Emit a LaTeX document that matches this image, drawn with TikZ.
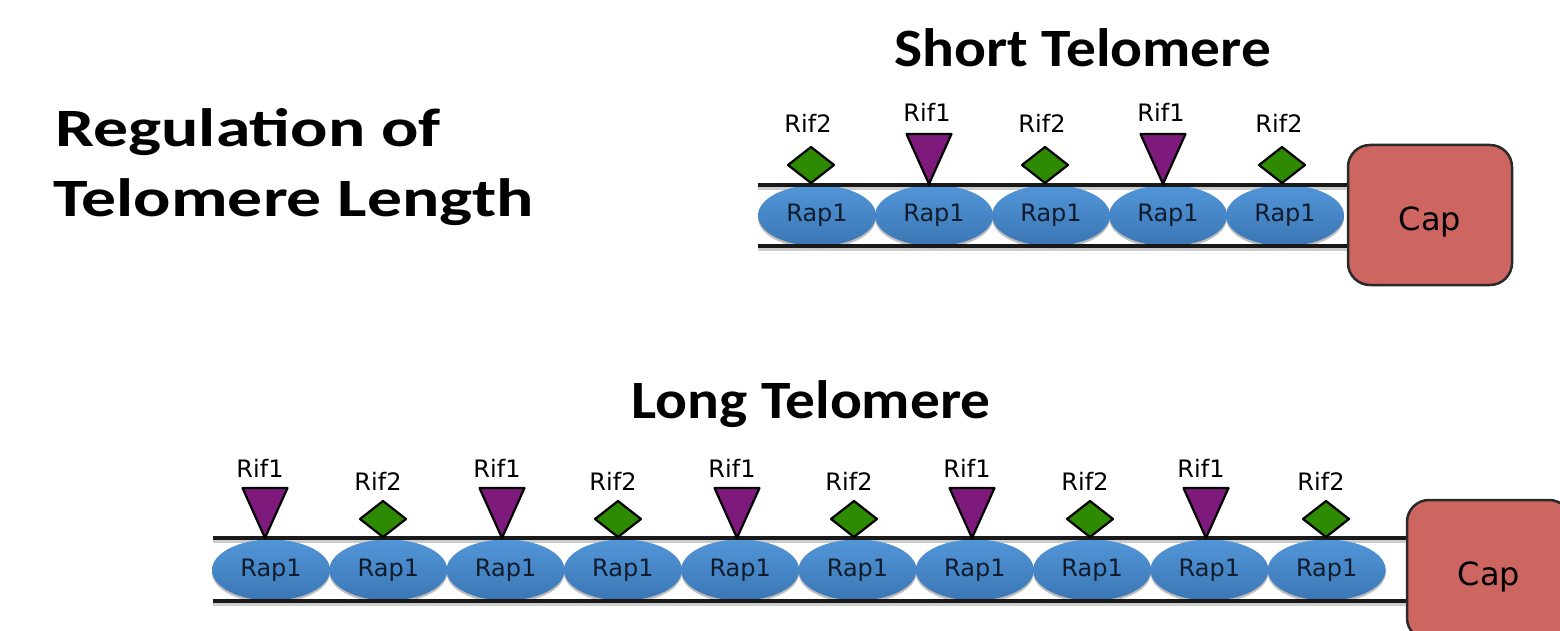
\documentclass[tikz,border=0pt]{standalone}
\usepackage{fontspec}
\usetikzlibrary{shapes.geometric}
\setmainfont{DejaVu Sans}
\newfontfamily\titlefont[FakeStretch=1.10]{Carlito}
\newfontfamily\regfont[FakeStretch=1.29]{Carlito}
\definecolor{rapTop}{HTML}{5296D8}
\definecolor{rapBot}{HTML}{3B76B4}
\definecolor{rifPurple}{HTML}{7D1A7B}
\definecolor{rifGreen}{HTML}{2E8A00}
\definecolor{capRed}{HTML}{CD6560}
\definecolor{capEdge}{HTML}{2A2A2A}
\definecolor{rapText}{HTML}{101C2C}
\begin{document}
\begin{tikzpicture}[x=1pt,y=-1pt,
  title/.style={font=\titlefont\bfseries\fontsize{54}{60}\selectfont, inner sep=0pt},
  regtitle/.style={font=\regfont\bfseries\fontsize{54}{60}\selectfont, inner sep=0pt},
  riflabel/.style={font=\fontsize{24}{28}\selectfont, inner sep=0pt, anchor=base},
  rap/.style={ellipse, minimum width=118pt, minimum height=61pt, inner sep=0pt,
    top color=rapTop, bottom color=rapBot, draw=none,
    font=\fontsize{24}{28}\selectfont, text=rapText},
  rapshadow/.style={ellipse, minimum width=118pt, minimum height=61pt, inner sep=0pt,
    fill=black!25, draw=none},
  strand/.style={line width=4pt, draw=black!90},
  strandshadow/.style={line width=4pt, draw=black!20},
  capbox/.style={rounded corners=22pt, fill=capRed, draw=capEdge, line width=2.5pt,
    minimum width=164pt, minimum height=140pt, font=\fontsize{32}{36}\selectfont,
    text height=30pt, text depth=0pt},
  rifone/.pic={\draw[fill=rifPurple, draw=black, line width=2.2pt, line join=round]
     (-22.5,-50) -- (22.5,-50) -- (0,0) -- cycle;},
  riftwo/.pic={\draw[fill=rifGreen, draw=black, line width=2.2pt, line join=round]
     (0,0) -- (-23,-18) -- (0,-36) -- (23,-18) -- cycle;}
]
\path[use as bounding box] (0,0) rectangle (1560,631);
\clip (0,0) rectangle (1560,631);

% Titles
\node[regtitle, anchor=base west] (reg1) at (55,147) {Regulation of};
\node[regtitle, anchor=base west] (reg2) at (53,217) {Telomere Length};
\node[title, anchor=base] (stitle) at (1083,67) {Short Telomere};
\node[title, anchor=base] (ltitle) at (811,418) {Long Telomere};

% ---------- Short telomere ----------
\node[capbox] (scap) at (1430,215) {Cap};
\coordinate (sL1) at (758,185);
\coordinate (sL2) at (758,246);
\draw[strandshadow] ([yshift=-3pt]sL1) -- ([yshift=-3pt]sL1 -| scap.west);
\draw[strandshadow] ([yshift=-3pt]sL2) -- ([yshift=-3pt]sL2 -| scap.west);
\foreach \i in {0,...,4}{
  \node[rapshadow] (ss\i) at ({817+117*\i},218) {};
}
\foreach \i in {0,...,4}{
  \node[rap] (sr\i) at ({817+117*\i},215.5) {Rap1};
}
\draw[strand] (sL1) -- (sL1 -| scap.west);
\draw[strand] (sL2) -- (sL2 -| scap.west);

\foreach \x/\n in {811/0,1045/2,1282/4}{
  \pic at (\x,183) {riftwo};
  \node[riflabel] (sf\n) at (\x-3,133) {Rif2};
}
\foreach \x/\n in {929/1,1163/3}{
  \pic at (\x,184) {rifone};
  \node[riflabel] (sf\n) at (\x-2,122) {Rif1};
}

% ---------- Long telomere ----------
\node[capbox] (lcap) at (1489,570) {Cap};
\coordinate (lL1) at (213,538);
\coordinate (lL2) at (213,601);
\draw[strandshadow] ([yshift=-3pt]lL1) -- ([yshift=-3pt]lL1 -| lcap.west);
\draw[strandshadow] ([yshift=-3pt]lL2) -- ([yshift=-3pt]lL2 -| lcap.west);
\foreach \i in {0,...,9}{
  \node[rapshadow] (ls\i) at ({271+117.3*\i},572.5) {};
}
\foreach \i in {0,...,9}{
  \node[rap] (lr\i) at ({271+117.3*\i},570) {Rap1};
}
\draw[strand] (lL1) -- (lL1 -| lcap.west);
\draw[strand] (lL2) -- (lL2 -| lcap.west);

\foreach \x/\n in {265/0,502/2,737/4,972/6,1206/8}{
  \pic at (\x,538) {rifone};
  \node[riflabel] (lf\n) at (\x-5,477) {Rif1};
}
\foreach \x/\n in {383/1,618/3,854/5,1090/7,1326/9}{
  \pic at (\x,537) {riftwo};
  \node[riflabel] (lf\n) at (\x-5,490) {Rif2};
}
\end{tikzpicture}
\end{document}
